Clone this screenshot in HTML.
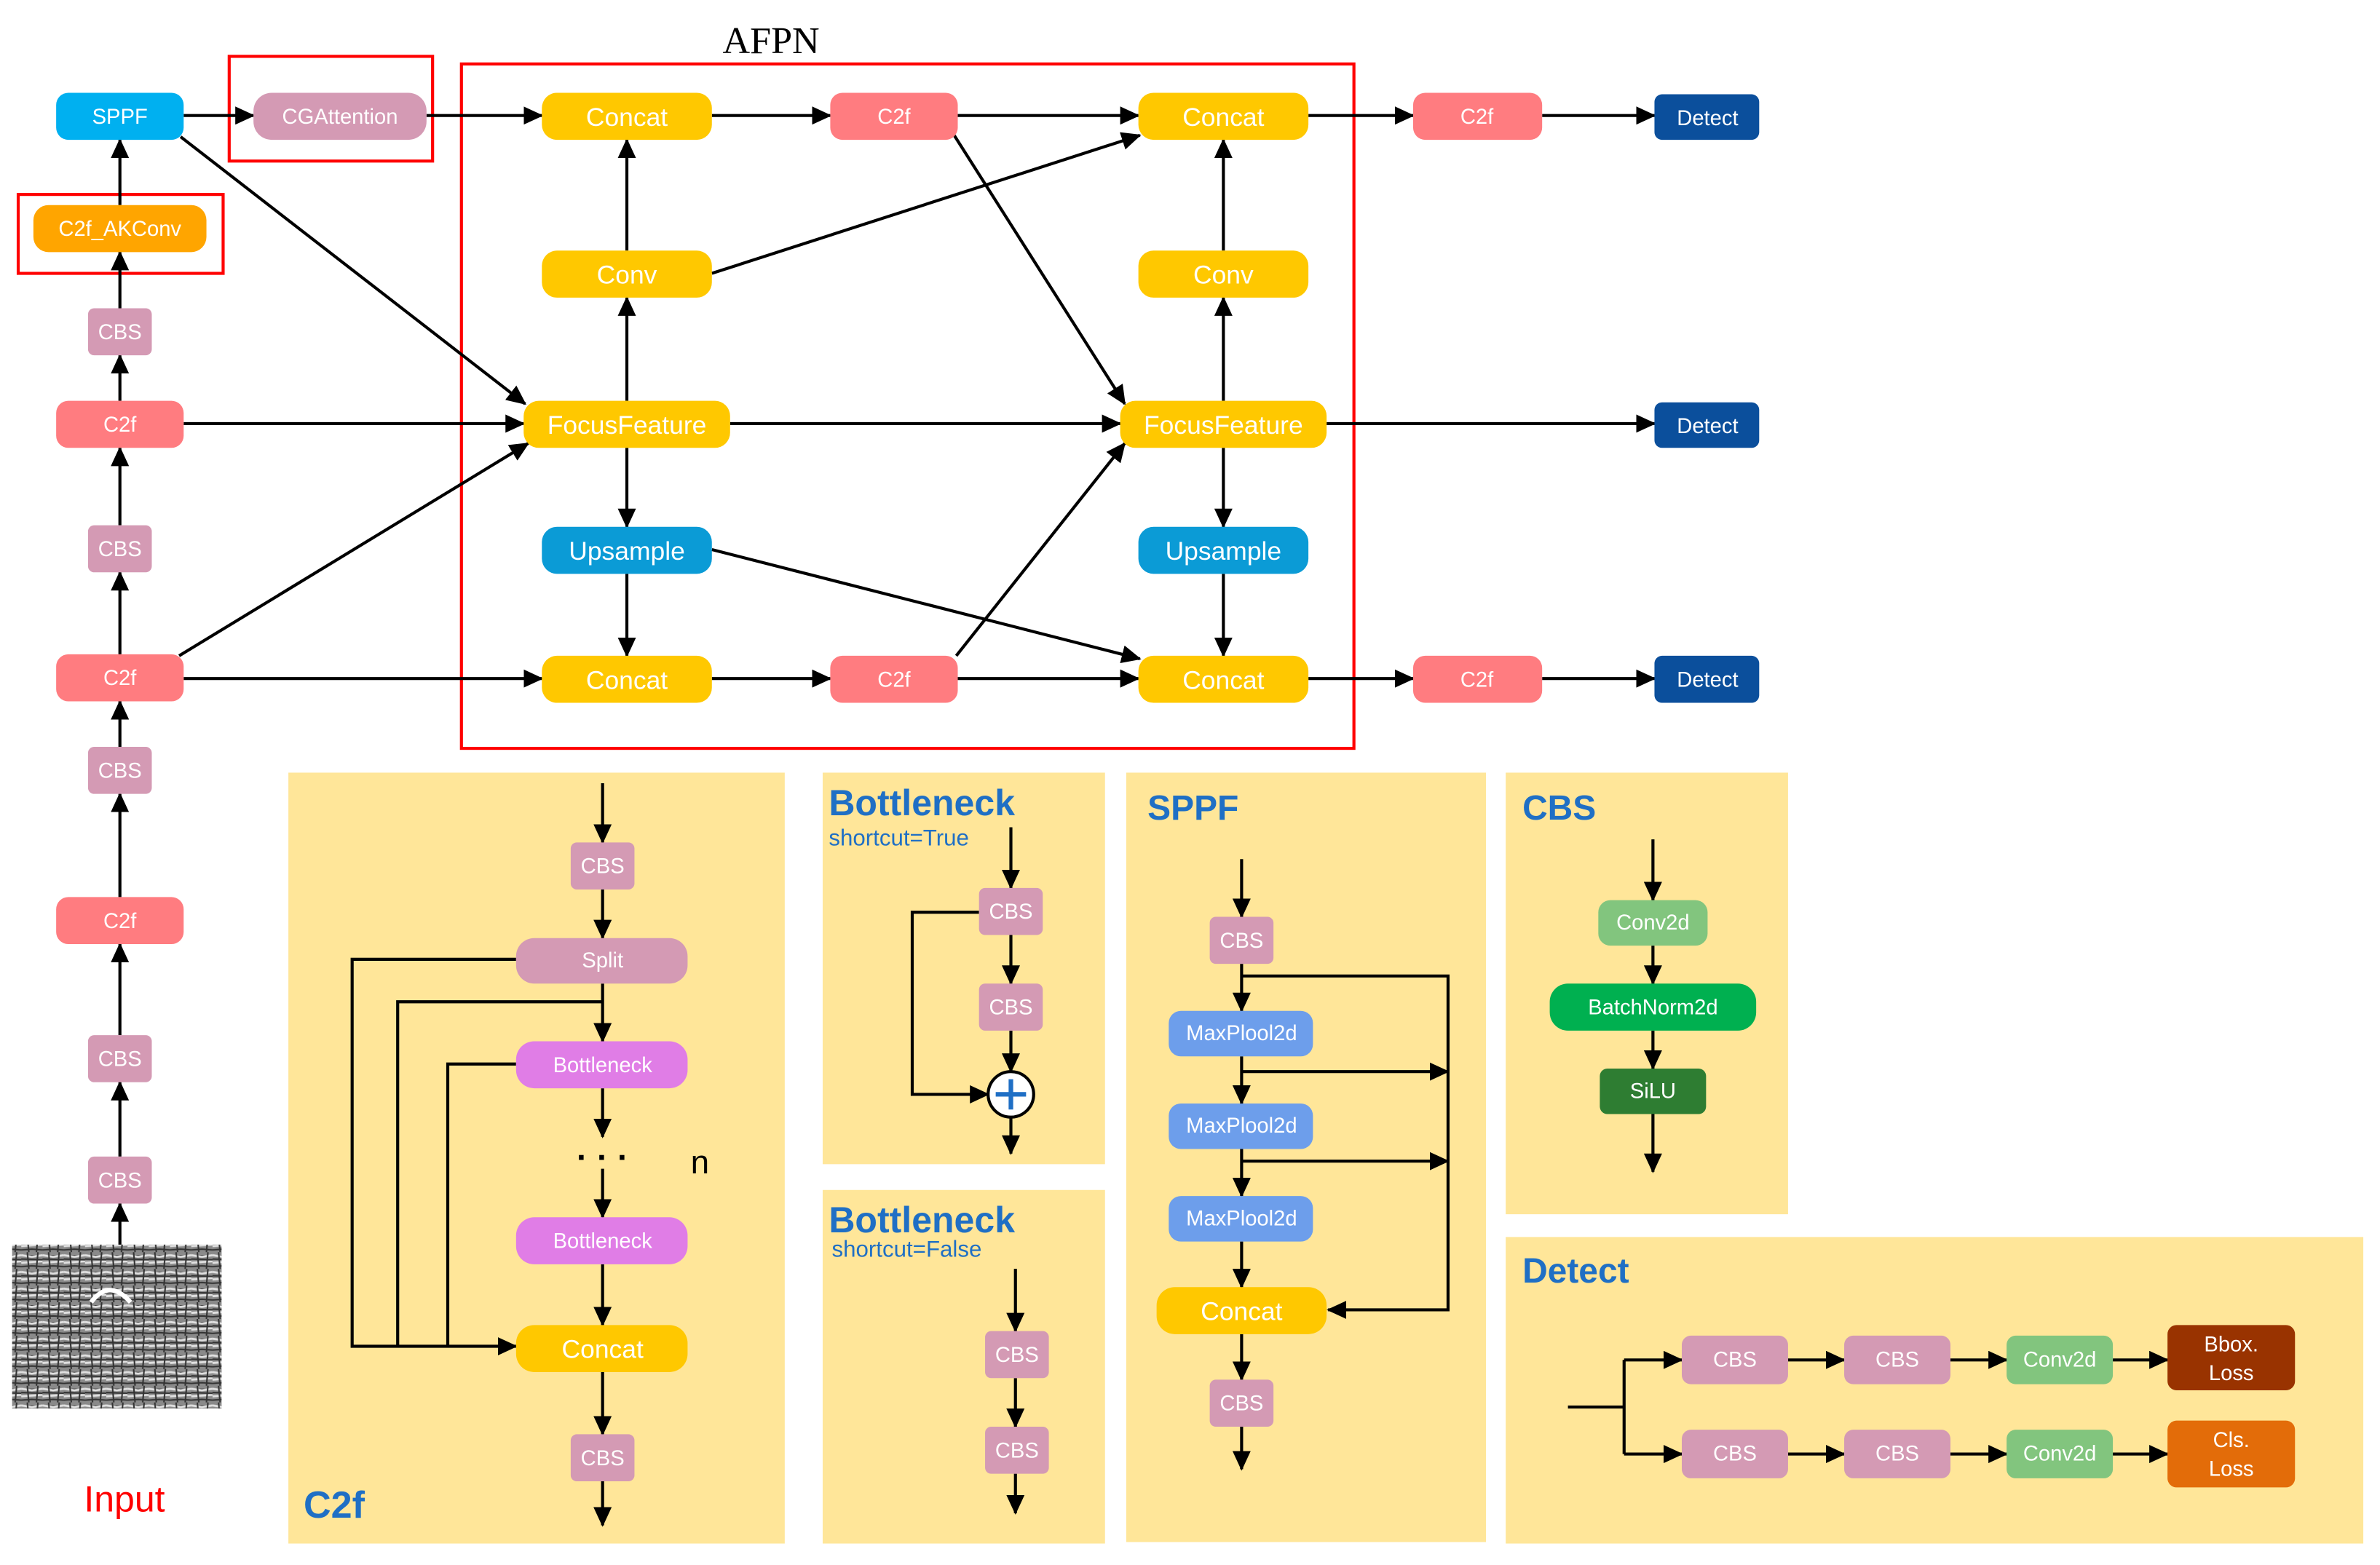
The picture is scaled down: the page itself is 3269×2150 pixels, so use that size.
<!DOCTYPE html>
<html><head><meta charset="utf-8"><style>html,body{margin:0;padding:0;background:#fff}svg{display:block}</style></head>
<body>
<svg width="3269" height="2150" viewBox="0 0 1568 1031" xmlns="http://www.w3.org/2000/svg" font-family="Liberation Sans, DejaVu Sans, sans-serif">
<defs>
<marker id="a" markerWidth="13" markerHeight="12" refX="12" refY="6" orient="auto" markerUnits="userSpaceOnUse"><path d="M0,0 L13,6 L0,12 z" fill="#000"/></marker>
<pattern id="noise" width="14" height="11" patternUnits="userSpaceOnUse"><rect width="14" height="11" fill="#8a8a8a"/><path d="M0,2 L7,3 L14,2 M0,7 L14,6" stroke="#e0e0e0" stroke-width="1.4"/><path d="M0,4.5 L14,5 M0,9.5 L7,9 L14,9.5 M4,0 L5,11 M11,0 L10,11" stroke="#333" stroke-width="1"/></pattern>
</defs>
<rect width="1568" height="1031" fill="#fff"/>
<g fill="#ffe699">
<rect x="190" y="509" width="327" height="508"/>
<rect x="542" y="509" width="186" height="258"/>
<rect x="542" y="784" width="186" height="233"/>
<rect x="742" y="509" width="237" height="507"/>
<rect x="992" y="509" width="186" height="291"/>
<rect x="992" y="815" width="565" height="202"/>
</g>
<g fill="none" stroke="#f00" stroke-width="2">
<rect x="151" y="37" width="134" height="69"/>
<rect x="12" y="128" width="135" height="52"/>
<rect x="304" y="42" width="588" height="451"/>
</g>
<text x="508" y="35" font-family="Liberation Serif, serif" font-size="25" text-anchor="middle">AFPN</text>
<text x="82" y="996" font-size="24" fill="#f00" text-anchor="middle">Input</text>
<rect x="8" y="820" width="138" height="108" fill="url(#noise)"/>
<path d="M60,858 Q72,842 86,858" stroke="#fff" stroke-width="3" fill="none"/>
<g stroke="#000" stroke-width="2" fill="none" marker-end="url(#a)">
<line x1="79" y1="820" x2="79" y2="793"/><line x1="79" y1="762" x2="79" y2="713"/><line x1="79" y1="682" x2="79" y2="622"/>
<line x1="79" y1="591" x2="79" y2="523"/><line x1="79" y1="492" x2="79" y2="462"/><line x1="79" y1="431" x2="79" y2="377"/>
<line x1="79" y1="346" x2="79" y2="295"/><line x1="79" y1="264" x2="79" y2="234"/><line x1="79" y1="203" x2="79" y2="166"/>
<line x1="79" y1="135" x2="79" y2="92"/>
<line x1="121" y1="76" x2="167" y2="76"/><line x1="281" y1="76" x2="357" y2="76"/>
<line x1="119" y1="90" x2="346" y2="266"/><line x1="121" y1="279" x2="345" y2="279"/>
<line x1="118" y1="432" x2="348" y2="292"/><line x1="121" y1="447" x2="357" y2="447"/>
<line x1="413" y1="264" x2="413" y2="196"/><line x1="413" y1="165" x2="413" y2="92"/>
<line x1="413" y1="295" x2="413" y2="347"/><line x1="413" y1="378" x2="413" y2="432"/>
<line x1="469" y1="76" x2="547" y2="76"/><line x1="631" y1="76" x2="750" y2="76"/>
<line x1="469" y1="180" x2="751" y2="89"/><line x1="628" y1="88" x2="741" y2="266"/>
<line x1="481" y1="279" x2="738" y2="279"/><line x1="469" y1="362" x2="751" y2="434"/>
<line x1="469" y1="447" x2="547" y2="447"/><line x1="631" y1="447" x2="750" y2="447"/>
<line x1="630" y1="432" x2="741" y2="292"/>
<line x1="806" y1="264" x2="806" y2="196"/><line x1="806" y1="165" x2="806" y2="92"/>
<line x1="806" y1="295" x2="806" y2="347"/><line x1="806" y1="378" x2="806" y2="432"/>
<line x1="862" y1="76" x2="931" y2="76"/><line x1="1016" y1="76" x2="1090" y2="76"/>
<line x1="874" y1="279" x2="1090" y2="279"/>
<line x1="862" y1="447" x2="931" y2="447"/><line x1="1016" y1="447" x2="1090" y2="447"/>
<line x1="397" y1="516" x2="397" y2="555"/><line x1="397" y1="586" x2="397" y2="618"/>
<line x1="397" y1="648" x2="397" y2="686"/><line x1="397" y1="717" x2="397" y2="749"/>
<line x1="397" y1="770" x2="397" y2="802"/><line x1="397" y1="833" x2="397" y2="873"/>
<line x1="397" y1="904" x2="397" y2="945"/><line x1="397" y1="976" x2="397" y2="1005"/>
<path d="M340,632 H232 V887 H340"/>
<line x1="666" y1="545" x2="666" y2="585"/><line x1="666" y1="616" x2="666" y2="648"/>
<line x1="666" y1="679" x2="666" y2="706"/><line x1="666" y1="736" x2="666" y2="760"/>
<path d="M645,601 H601 V721 H651"/>
<line x1="669" y1="836" x2="669" y2="877"/><line x1="669" y1="908" x2="669" y2="940"/><line x1="669" y1="971" x2="669" y2="997"/>
<line x1="818" y1="566" x2="818" y2="604"/><line x1="818" y1="635" x2="818" y2="666"/>
<line x1="818" y1="696" x2="818" y2="727"/><line x1="818" y1="757" x2="818" y2="788"/>
<line x1="818" y1="818" x2="818" y2="848"/><line x1="818" y1="879" x2="818" y2="909"/>
<line x1="818" y1="940" x2="818" y2="968"/>
<path d="M818,643 H954 V863 H875"/>
<line x1="818" y1="706" x2="954" y2="706"/><line x1="818" y1="765" x2="954" y2="765"/>
<line x1="1089" y1="553" x2="1089" y2="593"/><line x1="1089" y1="623" x2="1089" y2="648"/>
<line x1="1089" y1="679" x2="1089" y2="704"/><line x1="1089" y1="734" x2="1089" y2="772"/>
<path d="M1070,896 H1108"/><path d="M1070,958 H1108"/>
<line x1="1178" y1="896" x2="1215" y2="896"/><line x1="1285" y1="896" x2="1322" y2="896"/><line x1="1392" y1="896" x2="1428" y2="896"/>
<line x1="1178" y1="958" x2="1215" y2="958"/><line x1="1285" y1="958" x2="1322" y2="958"/><line x1="1392" y1="958" x2="1428" y2="958"/>
</g>
<g stroke="#000" stroke-width="2" fill="none">
<path d="M397,660 H262 V887"/><path d="M340,701 H295 V887"/>
<path d="M1033,927 H1070 M1070,896 V958"/>
</g>
<circle cx="666" cy="721" r="15" fill="#fff" stroke="#000" stroke-width="2"/>
<path d="M656,721 H676 M666,711 V731" stroke="#1f6fc5" stroke-width="3"/>
<text x="397" y="770" font-size="22" text-anchor="middle" font-weight="bold">· · ·</text>
<text x="455" y="773" font-size="22">n</text>
<g fill="#1f6fc5" font-weight="bold">
<text x="200" y="1000" font-size="25">C2f</text>
<text x="546" y="537" font-size="24">Bottleneck</text>
<text x="546" y="812" font-size="24">Bottleneck</text>
<text x="756" y="540" font-size="23">SPPF</text>
<text x="1003" y="540" font-size="23">CBS</text>
<text x="1003" y="845" font-size="23">Detect</text>
</g>
<text x="546" y="557" font-size="15" fill="#1f6fc5">shortcut=True</text>
<text x="548" y="828" font-size="15" fill="#1f6fc5">shortcut=False</text>
<g font-size="14" fill="#fff" text-anchor="middle" dominant-baseline="central">
<rect x="37" y="61" width="84" height="31" rx="8" fill="#00b0f0"/><text x="79" y="77">SPPF</text>
<rect x="22" y="135" width="114" height="31" rx="10" fill="#ffa500"/><text x="79" y="151">C2f_AKConv</text>
<rect x="58" y="203" width="42" height="31" rx="4" fill="#d49ab4"/><text x="79" y="219">CBS</text>
<rect x="37" y="264" width="84" height="31" rx="8" fill="#ff7c80"/><text x="79" y="280">C2f</text>
<rect x="58" y="346" width="42" height="31" rx="4" fill="#d49ab4"/><text x="79" y="362">CBS</text>
<rect x="37" y="431" width="84" height="31" rx="8" fill="#ff7c80"/><text x="79" y="447">C2f</text>
<rect x="58" y="492" width="42" height="31" rx="4" fill="#d49ab4"/><text x="79" y="508">CBS</text>
<rect x="37" y="591" width="84" height="31" rx="8" fill="#ff7c80"/><text x="79" y="607">C2f</text>
<rect x="58" y="682" width="42" height="31" rx="4" fill="#d49ab4"/><text x="79" y="698">CBS</text>
<rect x="58" y="762" width="42" height="31" rx="4" fill="#d49ab4"/><text x="79" y="778">CBS</text>
<rect x="167" y="61" width="114" height="31" rx="12" fill="#d49ab4"/><text x="224" y="77">CGAttention</text>
<g font-size="17">
<rect x="357" y="61" width="112" height="31" rx="10" fill="#ffc800"/><text x="413" y="77">Concat</text>
<rect x="357" y="165" width="112" height="31" rx="10" fill="#ffc800"/><text x="413" y="181">Conv</text>
<rect x="345" y="264" width="136" height="31" rx="10" fill="#ffc800"/><text x="413" y="280">FocusFeature</text>
<rect x="357" y="347" width="112" height="31" rx="10" fill="#0b9bd6"/><text x="413" y="363">Upsample</text>
<rect x="357" y="432" width="112" height="31" rx="10" fill="#ffc800"/><text x="413" y="448">Concat</text>
<rect x="750" y="61" width="112" height="31" rx="10" fill="#ffc800"/><text x="806" y="77">Concat</text>
<rect x="750" y="165" width="112" height="31" rx="10" fill="#ffc800"/><text x="806" y="181">Conv</text>
<rect x="738" y="264" width="136" height="31" rx="10" fill="#ffc800"/><text x="806" y="280">FocusFeature</text>
<rect x="750" y="347" width="112" height="31" rx="10" fill="#0b9bd6"/><text x="806" y="363">Upsample</text>
<rect x="750" y="432" width="112" height="31" rx="10" fill="#ffc800"/><text x="806" y="448">Concat</text>
</g>
<rect x="547" y="61" width="84" height="31" rx="8" fill="#ff7c80"/><text x="589" y="77">C2f</text>
<rect x="547" y="432" width="84" height="31" rx="8" fill="#ff7c80"/><text x="589" y="448">C2f</text>
<rect x="931" y="61" width="85" height="31" rx="8" fill="#ff7c80"/><text x="973" y="77">C2f</text>
<rect x="931" y="432" width="85" height="31" rx="8" fill="#ff7c80"/><text x="973" y="448">C2f</text>
<rect x="1090" y="62" width="69" height="30" rx="5" fill="#0b4f9c"/><text x="1125" y="78">Detect</text>
<rect x="1090" y="265" width="69" height="30" rx="5" fill="#0b4f9c"/><text x="1125" y="281">Detect</text>
<rect x="1090" y="432" width="69" height="31" rx="5" fill="#0b4f9c"/><text x="1125" y="448">Detect</text>
<rect x="376" y="555" width="42" height="31" rx="4" fill="#d49ab4"/><text x="397" y="571">CBS</text>
<rect x="340" y="618" width="113" height="30" rx="12" fill="#d49ab4"/><text x="397" y="633">Split</text>
<rect x="340" y="686" width="113" height="31" rx="12" fill="#e07de6"/><text x="397" y="702">Bottleneck</text>
<rect x="340" y="802" width="113" height="31" rx="12" fill="#e07de6"/><text x="397" y="818">Bottleneck</text>
<rect x="340" y="873" width="113" height="31" rx="12" fill="#ffc800"/><text x="397" y="889" font-size="17">Concat</text>
<rect x="376" y="945" width="42" height="31" rx="4" fill="#d49ab4"/><text x="397" y="961">CBS</text>
<rect x="645" y="585" width="42" height="31" rx="4" fill="#d49ab4"/><text x="666" y="601">CBS</text>
<rect x="645" y="648" width="42" height="31" rx="4" fill="#d49ab4"/><text x="666" y="664">CBS</text>
<rect x="649" y="877" width="42" height="31" rx="4" fill="#d49ab4"/><text x="670" y="893">CBS</text>
<rect x="649" y="940" width="42" height="31" rx="4" fill="#d49ab4"/><text x="670" y="956">CBS</text>
<rect x="797" y="604" width="42" height="31" rx="4" fill="#d49ab4"/><text x="818" y="620">CBS</text>
<rect x="770" y="666" width="95" height="30" rx="8" fill="#6d9eeb"/><text x="818" y="681">MaxPlool2d</text>
<rect x="770" y="727" width="95" height="30" rx="8" fill="#6d9eeb"/><text x="818" y="742">MaxPlool2d</text>
<rect x="770" y="788" width="95" height="30" rx="8" fill="#6d9eeb"/><text x="818" y="803">MaxPlool2d</text>
<rect x="762" y="848" width="112" height="31" rx="12" fill="#ffc800"/><text x="818" y="864" font-size="17">Concat</text>
<rect x="797" y="909" width="42" height="31" rx="4" fill="#d49ab4"/><text x="818" y="925">CBS</text>
<rect x="1053" y="593" width="72" height="30" rx="8" fill="#82c57e"/><text x="1089" y="608">Conv2d</text>
<rect x="1021" y="648" width="136" height="31" rx="12" fill="#00b050"/><text x="1089" y="664">BatchNorm2d</text>
<rect x="1054" y="704" width="70" height="30" rx="5" fill="#2e7d32"/><text x="1089" y="719">SiLU</text>
<rect x="1108" y="880" width="70" height="32" rx="6" fill="#d49ab4"/><text x="1143" y="896">CBS</text>
<rect x="1215" y="880" width="70" height="32" rx="6" fill="#d49ab4"/><text x="1250" y="896">CBS</text>
<rect x="1322" y="880" width="70" height="32" rx="6" fill="#82c57e"/><text x="1357" y="896">Conv2d</text>
<rect x="1428" y="873" width="84" height="43" rx="6" fill="#993300"/><text x="1470" y="886">Bbox.</text><text x="1470" y="905">Loss</text>
<rect x="1108" y="942" width="70" height="32" rx="6" fill="#d49ab4"/><text x="1143" y="958">CBS</text>
<rect x="1215" y="942" width="70" height="32" rx="6" fill="#d49ab4"/><text x="1250" y="958">CBS</text>
<rect x="1322" y="942" width="70" height="32" rx="6" fill="#82c57e"/><text x="1357" y="958">Conv2d</text>
<rect x="1428" y="936" width="84" height="44" rx="6" fill="#e36c09"/><text x="1470" y="949">Cls.</text><text x="1470" y="968">Loss</text>
</g>
</svg>
</body></html>
